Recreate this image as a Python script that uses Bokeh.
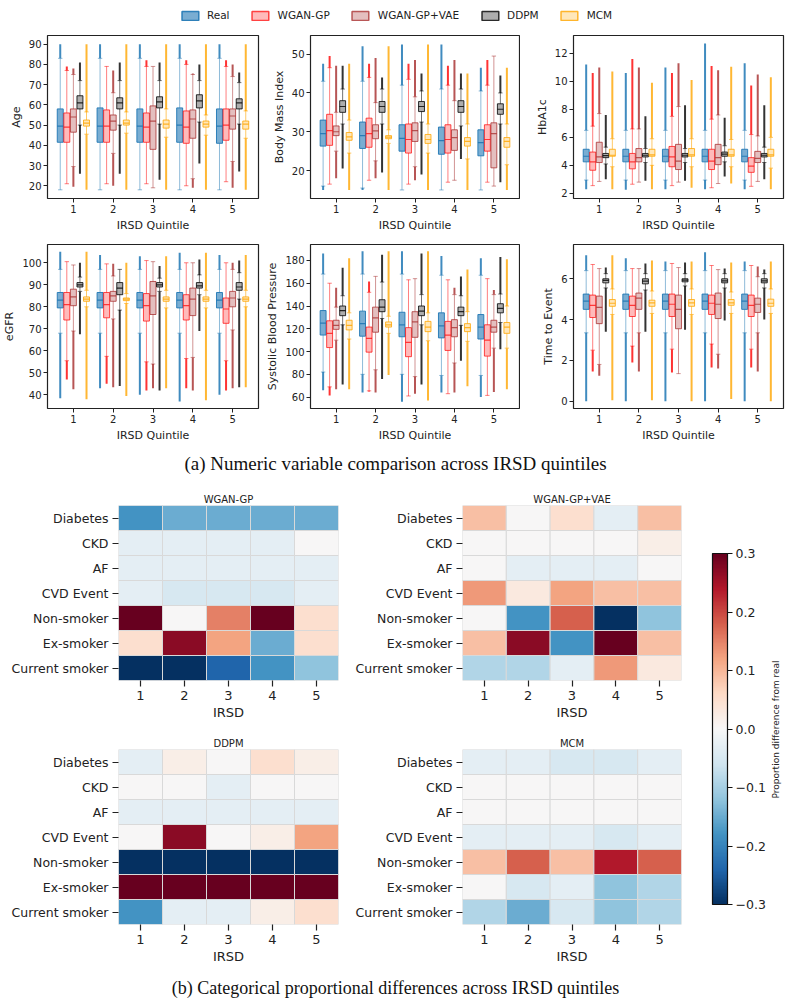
import math
from bokeh.plotting import figure
from bokeh.layouts import column, row
from bokeh.models import (ColumnDataSource, FixedTicker, Legend, LegendItem,
                          LinearColorMapper, ColorBar, Label, Div, FactorRange, Range1d)
from bokeh.transform import dodge, transform
from bokeh.embed import file_html
from bokeh.resources import INLINE

FONT = "DejaVu Sans"
SERIF = "Liberation Serif"
INK = "#222222"

MODELS = ["Real", "WGAN-GP", "WGAN-GP+VAE", "DDPM", "MCM"]
QUINTILES = [1, 2, 3, 4, 5]

# Per quintile: (outlier min, whisker low, Q1, median, Q3, whisker high, outlier max)
AGE = {
    "Real":        [(18, 18, 41.5, 49.5, 58, 83, 90), (18, 18, 41.5, 49.5, 58.5, 83, 90), (18, 18, 41.5, 49.5, 58, 83, 90), (18, 18, 41.5, 50, 58.5, 83, 90), (18, 18, 41, 49.5, 58, 83, 90)],
    "WGAN-GP":     [(21, 21, 41.5, 49, 56, 77, 79), (21, 21, 41.5, 49.5, 57.5, 79, 79), (21, 21, 41.5, 49, 56, 79, 82), (20, 20, 41, 49, 57, 80, 82), (22, 22, 42.5, 50, 58, 79, 82)],
    "WGAN-GP+VAE": [(19.5, 29.5, 46.5, 54, 58, 75, 78), (20, 36, 47.5, 52, 55, 66, 77), (19, 19, 38, 52, 59.5, 79, 79), (19, 23.5, 43.5, 53, 57.5, 75, 75.5), (19, 32, 48, 54.5, 58, 74, 80)],
    "DDPM":        [(26, 50, 58, 61, 64.5, 72, 81), (26, 50, 58, 61, 63.5, 72, 81), (23, 50.5, 58.5, 61.5, 64, 72, 81), (31, 51.5, 58.5, 62, 65, 72, 80), (27, 50.5, 58, 61, 63, 71, 76)],
    "MCM":         [(18, 45.5, 49.5, 51, 52.5, 56.5, 90), (18, 46, 50, 51, 52.5, 56.5, 90), (18, 44, 48.5, 50.5, 52.5, 58, 90), (18, 45, 49, 50.5, 52, 55, 90), (18, 43.5, 48, 50.5, 52, 57, 90)],
}
BMI = {
    "Real":        [(15, 16, 26.3, 29.5, 33, 43, 47.5), (15, 15.5, 25.7, 29, 32.5, 43, 52), (15, 15, 25, 28.3, 31.8, 42, 52.5), (15, 15, 24.2, 27.7, 31.2, 41, 52.5), (15, 15, 23.8, 27.2, 30.5, 40.5, 46.5)],
    "WGAN-GP":     [(16.5, 16.5, 26.5, 30.3, 34.5, 46.5, 49.5), (17.5, 17.5, 26, 29.5, 33.5, 44, 47.5), (16.5, 16.5, 24.5, 28, 32, 43.5, 47.5), (17, 17, 24.5, 28, 31.8, 42, 47), (17, 17, 25, 28, 31.8, 42, 48.5)],
    "WGAN-GP+VAE": [(18, 25, 29, 30, 31.5, 35, 47), (18, 22.5, 28.2, 30.2, 31.8, 37.5, 49), (17.5, 21, 27.5, 30.3, 32.3, 39, 48.5), (17.5, 17.5, 25.2, 28.5, 30.5, 38, 48.5), (16, 16, 20.7, 29.5, 32.3, 49.5, 49.5)],
    "DDPM":        [(20.5, 32, 35, 36.5, 38, 41, 47), (19.5, 32, 35, 36.5, 37.8, 41, 44), (19, 32.5, 35.2, 36.5, 37.8, 40.5, 45), (23, 31.5, 35, 36.5, 38, 41, 45), (17, 32, 34.5, 35.8, 37.2, 40, 44.5)],
    "MCM":         [(15, 24.5, 27.8, 28.7, 29.8, 33, 47.5), (15, 27, 28.2, 28.6, 29, 30.5, 52), (15, 24.5, 27, 28, 29.3, 32, 52.5), (15, 23, 26.3, 27.5, 28.5, 32, 45), (15, 21.5, 26, 27.5, 28.5, 32, 46.5)],
}
HBA1C = {
    "Real":        [(2.3, 2.95, 4.25, 4.65, 5.15, 6.5, 11.2), (2.25, 2.95, 4.25, 4.65, 5.15, 6.5, 10.6), (2.3, 2.95, 4.25, 4.65, 5.15, 6.5, 11.0), (2.3, 2.95, 4.25, 4.65, 5.15, 6.5, 12.7), (2.3, 2.95, 4.25, 4.65, 5.15, 6.5, 11.3)],
    "WGAN-GP":     [(2.55, 2.55, 3.65, 4.25, 4.95, 6.8, 10.6), (2.65, 2.65, 3.75, 4.25, 4.85, 6.6, 11.6), (2.55, 2.55, 3.9, 4.6, 5.35, 7.5, 10.6), (2.4, 2.4, 3.7, 4.3, 5.15, 7.3, 11.1), (2.5, 2.5, 3.5, 3.95, 4.55, 6.2, 9.7)],
    "WGAN-GP+VAE": [(2.85, 2.85, 4.2, 4.6, 5.65, 7.7, 11.0), (2.8, 2.8, 4.25, 4.55, 5.2, 6.6, 11.0), (2.8, 2.8, 3.7, 4.3, 5.5, 8.2, 11.3), (2.7, 2.7, 4.05, 4.55, 5.5, 7.6, 10.8), (2.85, 2.85, 4.2, 4.5, 5.0, 6.1, 10.5)],
    "DDPM":        [(3.0, 4.1, 4.55, 4.7, 4.85, 5.3, 7.6), (2.9, 4.2, 4.6, 4.72, 4.85, 5.2, 7.5), (2.9, 4.2, 4.6, 4.72, 4.85, 5.2, 8.3), (3.2, 4.25, 4.65, 4.8, 4.95, 5.4, 7.4), (3.0, 4.2, 4.6, 4.72, 4.85, 5.3, 8.3)],
    "MCM":         [(2.3, 3.9, 4.65, 4.72, 5.15, 5.9, 10.7), (2.3, 4.0, 4.65, 4.75, 5.15, 5.9, 9.9), (2.4, 3.9, 4.65, 4.75, 5.2, 5.9, 10.1), (2.7, 3.9, 4.65, 4.75, 5.15, 5.85, 11.05), (2.3, 3.8, 4.65, 4.75, 5.15, 6.0, 10.3)],
}
EGFR = {
    "Real":        [(38.5, 68, 79.5, 83, 86.5, 97, 105), (43, 68, 79.5, 83, 86.5, 97, 103.5), (40, 68, 79.5, 83, 86.5, 97, 103), (37, 68, 79.5, 83, 86.5, 97, 104.5), (40, 68, 79.5, 83, 86.5, 97, 103.5)],
    "WGAN-GP":     [(47, 55.5, 74, 81, 86.5, 100.5, 100.5), (45, 57.5, 75, 81, 86.5, 99.5, 99.5), (42, 55, 73.5, 80.5, 86, 101, 101), (43, 56.5, 74, 80.5, 85.5, 100, 100), (42, 55.5, 72.5, 79, 84, 100, 100)],
    "WGAN-GP+VAE": [(42.5, 69, 80.5, 84.5, 88, 99, 99), (43.5, 74.5, 82.5, 85, 87, 94, 99.5), (43, 54, 76.5, 85, 91.5, 100.5, 100.5), (42, 57, 76, 83.5, 88.5, 100, 100), (43, 69.5, 80, 84, 87, 97, 100)],
    "DDPM":        [(67.5, 87, 89, 90, 91, 93.5, 100), (44, 78.5, 85.5, 88.5, 91, 97, 97), (42, 87, 89, 90, 91, 93, 98.5), (69, 85.5, 88.5, 89.5, 91, 94.5, 101.5), (43.5, 83.5, 87.5, 89, 91, 95.5, 101)],
    "MCM":         [(38, 80, 82.5, 83.5, 84.5, 87.5, 105), (39.5, 81.5, 82.8, 83.5, 84, 86, 100), (43, 79.5, 82.5, 83.5, 84.5, 87.5, 103), (37.5, 79.5, 82.5, 83.5, 84.5, 87.5, 104.5), (43.5, 80, 82.5, 83.5, 84.5, 87.5, 103.5)],
}
SBP = {
    "Real":        [(66, 82, 114.5, 125, 136, 168, 186), (64, 80, 113.5, 124.5, 135.5, 168, 188), (56, 80, 113, 123.5, 134.5, 168, 188), (64, 79, 112, 122.5, 134, 167, 184), (60, 79, 111, 121.5, 132.5, 167, 182)],
    "WGAN-GP":     [(61.5, 69, 103.5, 116, 127, 160, 160), (65, 65.5, 99.5, 111.5, 121.5, 152, 161.5), (61, 61, 95.5, 108, 121, 163, 163), (63, 63, 101, 114.5, 126.5, 163, 163), (61.5, 61.5, 96, 110, 123.5, 164, 164)],
    "WGAN-GP+VAE": [(67, 110, 119.5, 123, 127.5, 139, 156), (64, 84, 117, 129.5, 139, 166, 166), (63, 78, 112.5, 126, 135, 164, 164), (64, 90, 113, 121, 128, 150, 156), (64.5, 103, 117, 121.5, 127.5, 150, 154)],
    "DDPM":        [(71, 123.5, 131.5, 136, 140, 149, 173.5), (76, 129, 135, 139, 145.5, 161, 185), (71, 123.5, 131.5, 135.5, 140, 150, 186), (92, 123, 131.5, 135, 139, 149, 166), (102, 125.5, 134, 138, 142, 150.5, 183)],
    "MCM":         [(67, 111, 119, 123, 127.5, 134, 182), (79.5, 116, 121.5, 123.5, 126, 131, 188), (57, 109.5, 117.5, 121.5, 126.5, 134, 188), (69.5, 109, 117.5, 121, 124.5, 135, 172), (67, 103, 116, 121.5, 125.5, 140, 181)],
}
TTE = {
    "Real":        [(0, 3.35, 4.5, 4.9, 5.25, 6.4, 7.15), (0, 3.35, 4.5, 4.9, 5.25, 6.4, 7.0), (0, 3.35, 4.5, 4.9, 5.25, 6.4, 6.85), (0, 3.35, 4.5, 4.9, 5.25, 6.4, 7.3), (0, 3.35, 4.5, 4.9, 5.25, 6.4, 6.85)],
    "WGAN-GP":     [(1.45, 2.5, 4.1, 4.7, 5.2, 6.7, 6.7), (1.9, 2.7, 4.15, 4.7, 5.15, 6.5, 6.5), (1.4, 2.55, 4.15, 4.75, 5.25, 6.75, 6.75), (1.65, 2.8, 4.25, 4.8, 5.2, 6.65, 6.65), (1.65, 2.55, 4.15, 4.7, 5.2, 6.65, 6.65)],
    "WGAN-GP+VAE": [(1.25, 1.8, 3.8, 4.6, 5.15, 6.5, 6.5), (1.45, 3.35, 4.5, 5.05, 5.3, 6.5, 6.5), (1.35, 1.35, 3.55, 4.5, 5.2, 6.55, 6.55), (1.6, 2.3, 4.05, 4.75, 5.3, 6.45, 6.45), (1.45, 3.35, 4.35, 4.75, 5.05, 6.1, 6.6)],
    "DDPM":        [(3.4, 5.55, 5.8, 5.92, 6.0, 6.25, 6.55), (3.4, 5.45, 5.75, 5.88, 6.0, 6.25, 6.75), (3.5, 5.65, 5.85, 5.93, 6.0, 6.25, 6.8), (3.95, 5.55, 5.8, 5.9, 6.0, 6.25, 6.5), (4.0, 5.55, 5.8, 5.9, 6.0, 6.25, 6.45)],
    "MCM":         [(0.05, 4.25, 4.65, 4.8, 4.98, 5.5, 7.15), (0.05, 4.3, 4.65, 4.82, 4.95, 5.4, 6.9), (0, 4.25, 4.65, 4.82, 4.98, 5.5, 6.85), (0.1, 4.3, 4.7, 4.82, 4.98, 5.35, 6.8), (0, 4.3, 4.65, 4.8, 5.0, 5.5, 6.85)],
}

AGE_TICKS = [20, 30, 40, 50, 60, 70, 80, 90]
BMI_TICKS = [20, 30, 40, 50]
HBA1C_TICKS = [2, 4, 6, 8, 10, 12]
EGFR_TICKS = [40, 50, 60, 70, 80, 90, 100]
SBP_TICKS = [60, 80, 100, 120, 140, 160, 180]
TTE_TICKS = [0, 2, 4, 6]

# Categorical proportional differences (rows = categories, columns = IRSD 1..5)
CATEGORIES = ["Diabetes", "CKD", "AF", "CVD Event", "Non-smoker", "Ex-smoker", "Current smoker"]
IRSD_LABELS = ["1", "2", "3", "4", "5"]
WGAN_GP_DIFF = [
    [-0.18, -0.15, -0.15, -0.15, -0.15],
    [-0.03, -0.03, -0.03, -0.03, 0.0],
    [-0.03, -0.03, -0.03, -0.03, -0.03],
    [-0.03, -0.05, -0.05, -0.05, -0.03],
    [0.32, 0.0, 0.15, 0.32, 0.05],
    [0.05, 0.27, 0.12, -0.15, 0.05],
    [-0.31, -0.31, -0.24, -0.18, -0.12],
]
WGAN_GP_VAE_DIFF = [
    [0.09, 0.0, 0.05, -0.03, 0.09],
    [0.0, 0.0, 0.0, 0.0, 0.02],
    [0.0, -0.03, -0.03, -0.03, 0.0],
    [0.13, 0.03, 0.12, 0.09, 0.09],
    [0.0, -0.18, 0.18, -0.31, -0.12],
    [0.09, 0.27, -0.18, 0.31, 0.09],
    [-0.09, -0.09, -0.03, 0.13, 0.03],
]
DDPM_DIFF = [
    [-0.03, 0.02, 0.0, 0.05, 0.02],
    [0.0, 0.0, -0.03, 0.0, 0.0],
    [-0.03, -0.03, -0.03, -0.03, -0.03],
    [0.0, 0.27, 0.0, 0.02, 0.12],
    [-0.31, -0.31, -0.31, -0.31, -0.31],
    [0.31, 0.31, 0.31, 0.31, 0.31],
    [-0.18, -0.03, -0.03, 0.02, 0.05],
]
MCM_DIFF = [
    [-0.03, -0.03, -0.05, -0.05, -0.03],
    [0.0, 0.0, 0.0, 0.0, 0.0],
    [0.0, 0.0, 0.0, 0.0, 0.0],
    [-0.03, -0.03, -0.03, -0.05, -0.03],
    [0.09, 0.18, 0.09, 0.24, 0.18],
    [0.0, -0.05, -0.03, -0.12, -0.09],
    [-0.09, -0.15, -0.05, -0.12, -0.09],
]
CBAR_TICKS = [-0.3, -0.2, -0.1, 0.0, 0.1, 0.2, 0.3]

# Box styling per model
STYLES = {
    "Real":        dict(color="#1f77b4", fill_alpha=0.6,  edge_alpha=0.9,  wh_alpha=0.5,  out_alpha=0.85),
    "WGAN-GP":     dict(color="#ff0000", fill_alpha=0.27, edge_alpha=0.7,  wh_alpha=0.5,  out_alpha=0.8),
    "WGAN-GP+VAE": dict(color="#a52a2a", fill_alpha=0.3,  edge_alpha=0.75, wh_alpha=0.5,  out_alpha=0.8),
    "DDPM":        dict(color="#000000", fill_alpha=0.32, edge_alpha=0.8,  wh_alpha=0.55, out_alpha=0.8),
    "MCM":         dict(color="#ffa500", fill_alpha=0.27, edge_alpha=0.8,  wh_alpha=0.6,  out_alpha=0.8),
}
OFFSETS = [-0.33, -0.165, 0.0, 0.165, 0.33]
BOX_W = 0.15
CAP_W = 0.11

RDBU_ANCHORS = ["#053061", "#2166ac", "#4393c3", "#92c5de", "#d1e5f0", "#f7f7f7",
                "#fddbc7", "#f4a582", "#d6604d", "#b2182b", "#67001f"]


def build_palette(anchors, n=256):
    rgb = [tuple(int(a[i:i + 2], 16) for i in (1, 3, 5)) for a in anchors]
    out = []
    for i in range(n):
        t = i / (n - 1) * (len(rgb) - 1)
        k = min(int(t), len(rgb) - 2)
        f = t - k
        c = [round(rgb[k][j] + (rgb[k + 1][j] - rgb[k][j]) * f) for j in range(3)]
        out.append("#%02x%02x%02x" % tuple(c))
    return out


MAPPER = LinearColorMapper(palette=build_palette(RDBU_ANCHORS), low=-0.3, high=0.3)


def style_axis(ax, tick_size, label_size, tick_out):
    ax.axis_line_color = None
    ax.major_tick_line_color = INK
    ax.major_tick_line_width = 1
    ax.major_tick_out = tick_out
    ax.major_tick_in = 0
    ax.minor_tick_line_color = None
    ax.major_label_text_font = FONT
    ax.major_label_text_font_size = tick_size
    ax.major_label_text_color = INK
    ax.axis_label_text_font = FONT
    ax.axis_label_text_font_size = label_size
    ax.axis_label_text_font_style = "normal"
    ax.axis_label_text_color = INK


def box_panel(stats, ylabel, yticks, yrange, width, height, borders):
    bl, br, bt, bb = borders
    p = figure(width=width, height=height, x_range=Range1d(0.35, 5.65), y_range=Range1d(*yrange),
               output_backend="svg", toolbar_location=None,
               min_border_left=bl, min_border_right=br, min_border_top=bt, min_border_bottom=bb)
    p.grid.visible = False
    p.outline_line_color = INK
    p.outline_line_width = 1.2
    for mi, m in enumerate(MODELS):
        st = STYLES[m]
        c = st["color"]
        cols = list(zip(*stats[m]))
        src = ColumnDataSource(dict(
            x=[q + OFFSETS[mi] for q in QUINTILES],
            omin=cols[0], wlo=cols[1], q1=cols[2], med=cols[3], q3=cols[4], whi=cols[5], omax=cols[6]))
        # outlier streaks (dense runs of flier dots)
        p.segment(x0="x", y0="omin", x1="x", y1="wlo", source=src,
                  line_color=c, line_width=2, line_alpha=st["out_alpha"])
        p.segment(x0="x", y0="whi", x1="x", y1="omax", source=src,
                  line_color=c, line_width=2, line_alpha=st["out_alpha"])
        # whiskers and caps
        p.segment(x0="x", y0="wlo", x1="x", y1="q1", source=src,
                  line_color=c, line_width=1, line_alpha=st["wh_alpha"])
        p.segment(x0="x", y0="q3", x1="x", y1="whi", source=src,
                  line_color=c, line_width=1, line_alpha=st["wh_alpha"])
        for key in ("wlo", "whi"):
            p.segment(x0=dodge("x", -CAP_W / 2), y0=key, x1=dodge("x", CAP_W / 2), y1=key,
                      source=src, line_color=c, line_width=1, line_alpha=st["wh_alpha"])
        # box and median
        p.vbar(x="x", width=BOX_W, bottom="q1", top="q3", source=src,
               fill_color=c, fill_alpha=st["fill_alpha"],
               line_color=c, line_alpha=st["edge_alpha"], line_width=1)
        p.segment(x0=dodge("x", -BOX_W / 2), y0="med", x1=dodge("x", BOX_W / 2), y1="med",
                  source=src, line_color=c, line_width=1.2, line_alpha=st["edge_alpha"])
    p.xaxis.ticker = FixedTicker(ticks=QUINTILES)
    p.yaxis.ticker = FixedTicker(ticks=yticks)
    p.xaxis.axis_label = "IRSD Quintile"
    p.yaxis.axis_label = ylabel
    for ax in (p.xaxis[0], p.yaxis[0]):
        style_axis(ax, "10px", "11px", 4)
        ax.major_label_standoff = 2
        ax.axis_label_standoff = 3
    return p


def heat_panel(title, grid, width, height, borders):
    bl, br, bt, bb = borders
    p = figure(width=width, height=height,
               x_range=FactorRange(factors=IRSD_LABELS),
               y_range=FactorRange(factors=list(reversed(CATEGORIES))),
               output_backend="svg", toolbar_location=None,
               min_border_left=bl, min_border_right=br, min_border_top=bt, min_border_bottom=bb)
    xs, ys, vs = [], [], []
    for ri, cat in enumerate(CATEGORIES):
        for ci, lab in enumerate(IRSD_LABELS):
            xs.append(lab)
            ys.append(cat)
            vs.append(grid[ri][ci])
    src = ColumnDataSource(dict(x=xs, y=ys, v=vs))
    p.rect(x="x", y="y", width=1, height=1, source=src,
           fill_color=transform("v", MAPPER), line_color="#d9d9d9", line_width=1)
    p.grid.visible = False
    p.outline_line_color = None
    p.title.text = title
    p.title.align = "center"
    p.title.text_font = FONT
    p.title.text_font_size = "10px"
    p.title.text_font_style = "normal"
    p.title.text_color = INK
    p.title.standoff = 2
    p.xaxis.axis_label = "IRSD"
    for ax in (p.xaxis[0], p.yaxis[0]):
        style_axis(ax, "12.5px", "13px", 6)
        ax.major_tick_line_width = 1.2
        ax.major_label_standoff = 4
        ax.axis_label_standoff = 2
    p.xaxis.major_label_text_font_size = "13px"
    return p


# ---- legend strip ----
legend_fig = figure(width=791, height=30, x_range=Range1d(0, 1), y_range=Range1d(0, 1),
                    x_axis_type=None, y_axis_type=None, output_backend="svg",
                    toolbar_location=None, min_border=0)
legend_fig.outline_line_color = None
legend_fig.grid.visible = False
items = []
for m in MODELS:
    st = STYLES[m]
    # legend proxy: one undrawn (NaN) quad carrying the model's box style
    proxy = ColumnDataSource(dict(left=[float("nan")], right=[float("nan")],
                                  bottom=[float("nan")], top=[float("nan")]))
    r = legend_fig.quad(left="left", right="right", bottom="bottom", top="top", source=proxy,
                        fill_color=st["color"], fill_alpha=st["fill_alpha"],
                        line_color=st["color"], line_alpha=st["edge_alpha"], line_width=1.5)
    items.append(LegendItem(label=m, renderers=[r]))
legend = Legend(items=items, orientation="horizontal", location="center",
                label_text_font=FONT, label_text_font_size="10.5px", label_text_color=INK,
                glyph_width=21, glyph_height=11, label_standoff=7, spacing=20,
                padding=0, margin=0, border_line_color=None, background_fill_alpha=0)
legend_fig.add_layout(legend)

# ---- box plot grid ----
b1 = box_panel(AGE, "Age", AGE_TICKS, (13.7, 94.3), 260, 204, (47, 2, 5, 32))
b2 = box_panel(BMI, "Body Mass Index", BMI_TICKS, (12.8, 54.8), 260, 204, (50, 1, 5, 32))
b3 = box_panel(HBA1C, "HbA1c", HBA1C_TICKS, (1.63, 13.28), 271, 204, (53, 8, 5, 32))
b4 = box_panel(EGFR, "eGFR", EGFR_TICKS, (33.8, 108.3), 260, 211, (47, 2, 10, 37))
b5 = box_panel(SBP, "Systolic Blood Pressure", SBP_TICKS, (50.0, 194.0), 260, 211, (50, 1, 10, 37))
b6 = box_panel(TTE, "Time to Event", TTE_TICKS, (-0.36, 7.68), 271, 211, (53, 8, 10, 37))

caption_style = {"font-family": SERIF, "text-align": "center",
                 "color": "#111111", "width": "791px", "margin": "0", "padding": "0",
                 "white-space": "nowrap"}
cap_a = Div(text="(a) Numeric variable comparison across IRSD quintiles", width=791, height=37,
            margin=0, styles=dict(caption_style, **{"line-height": "37px", "font-size": "19px"}))
cap_b = Div(text="(b) Categorical proportional differences across IRSD quintiles", width=791, height=32,
            margin=0, styles=dict(caption_style, **{"line-height": "32px", "font-size": "18px"}))

# ---- heatmaps ----
h1 = heat_panel("WGAN-GP", WGAN_GP_DIFF, 345, 245, (118, 7, 23, 47))
h2 = heat_panel("WGAN-GP+VAE", WGAN_GP_VAE_DIFF, 355, 245, (117, 19, 23, 47))
h3 = heat_panel("DDPM", DDPM_DIFF, 345, 245, (118, 7, 22, 48))
h4 = heat_panel("MCM", MCM_DIFF, 355, 245, (117, 19, 22, 48))

# ---- colour bar ----
cb_fig = figure(width=91, height=490, x_range=Range1d(0, 91), y_range=Range1d(0, 490),
                x_axis_type=None, y_axis_type=None, output_backend="svg",
                toolbar_location=None, min_border=0)
cb_fig.outline_line_color = None
cb_fig.grid.visible = False
overrides = {t: ("%.1f" % t).replace("-", "\u2212") for t in CBAR_TICKS}
cbar = ColorBar(color_mapper=MAPPER, ticker=FixedTicker(ticks=CBAR_TICKS),
                location=(12, 68), width=15, height=351, padding=0, margin=0,
                bar_line_color="#111111", bar_line_width=1.2,
                major_tick_line_color="#111111", major_tick_out=5, major_tick_in=0,
                minor_tick_line_color=None,
                major_label_text_font=FONT, major_label_text_font_size="12.5px",
                major_label_text_color=INK, label_standoff=3,
                major_label_overrides=overrides,
                background_fill_alpha=0, border_line_color=None)
cb_fig.add_layout(cbar)
cb_fig.add_layout(Label(x=75, y=243, text="Proportion difference from real", angle=math.pi / 2,
                        text_align="center", text_baseline="middle",
                        text_font=FONT, text_font_size="9px", text_color=INK))

page = column(
    legend_fig,
    row(b1, b2, b3),
    row(b4, b5, b6),
    cap_a,
    row(column(h1, h3), column(h2, h4), cb_fig),
    cap_b,
)

open("out.html", "w").write(file_html(page, INLINE))
